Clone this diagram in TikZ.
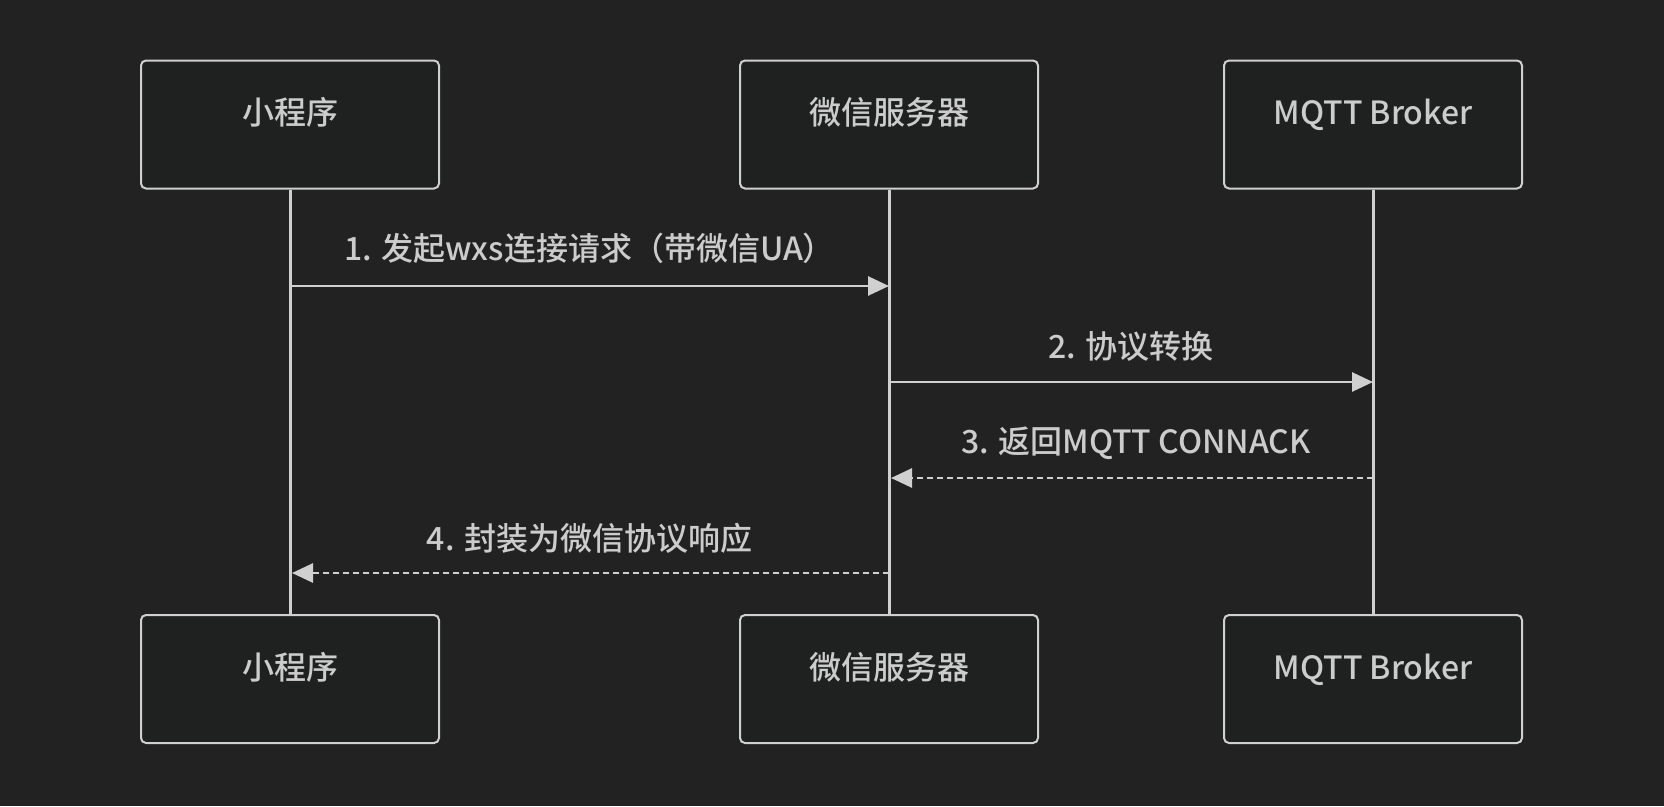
\documentclass[tikz,border=0pt]{standalone}
\usepackage{fontspec}
\setmainfont{Noto Sans CJK SC Medium}
\usetikzlibrary{arrows.meta}
\definecolor{bgc}{HTML}{222222}
\definecolor{boxfill}{HTML}{1F2020}
\definecolor{strokec}{HTML}{D0D0D0}
\definecolor{textc}{HTML}{CCCCCC}
\tikzset{
  actor/.style={draw=strokec, fill=boxfill, line width=2pt, rounded corners=5pt,
    minimum width=298pt, minimum height=128pt, inner sep=0pt,
    text=textc, font=\fontsize{32}{38}\selectfont, text height=26pt, text depth=26pt, align=center},
  lifeline/.style={draw=strokec, line width=3pt},
  msg/.style={draw=strokec, line width=2.8pt, -{Triangle[length=21pt,width=19pt]}},
  reply/.style={msg, dash pattern=on 6pt off 4pt},
  msglabel/.style={text=textc, font=\fontsize{32}{38}\selectfont, anchor=base, inner sep=0pt}
}
\begin{document}
\begin{tikzpicture}[x=1pt,y=-1pt]
\fill[bgc] (0,0) rectangle (1664,806);
\useasboundingbox (0,0) rectangle (1664,806);
% actors
\node[actor] (a1) at (290,124.5) {小程序};
\node[actor] (b1) at (889,124.5) {微信服务器};
\node[actor] (c1) at (1373,124.5) {MQTT Broker};
\node[actor] (a2) at (290,679) {小程序};
\node[actor] (b2) at (889,679) {微信服务器};
\node[actor] (c2) at (1373,679) {MQTT Broker};
% lifelines
\draw[lifeline] (a1.south) -- (a2.north);
\draw[lifeline] (b1.south) -- (b2.north);
\draw[lifeline] (c1.south) -- (c2.north);
% message anchor points
\coordinate (m1s) at (290,286);
\coordinate (m1e) at (889,286);
\coordinate (m2s) at (889,382);
\coordinate (m2e) at (1373,382);
\coordinate (m3s) at (1373,478);
\coordinate (m3e) at (891,478);
\coordinate (m4s) at (889,573);
\coordinate (m4e) at (292,573);
% messages
\draw[msg] (m1s) -- (m1e);
\node[msglabel] (l1) at (589.5,260) {1. 发起wxs连接请求（带微信UA）};
\draw[msg] (m2s) -- (m2e);
\node[msglabel] (l2) at (1131,358) {2. 协议转换};
\draw[reply] (m3s) -- (m3e);
\node[msglabel] (l3) at (1136,453) {3. 返回MQTT CONNACK};
\draw[reply] (m4s) -- (m4e);
\node[msglabel] (l4) at (589.5,550) {4. 封装为微信协议响应};
\end{tikzpicture}
\end{document}
